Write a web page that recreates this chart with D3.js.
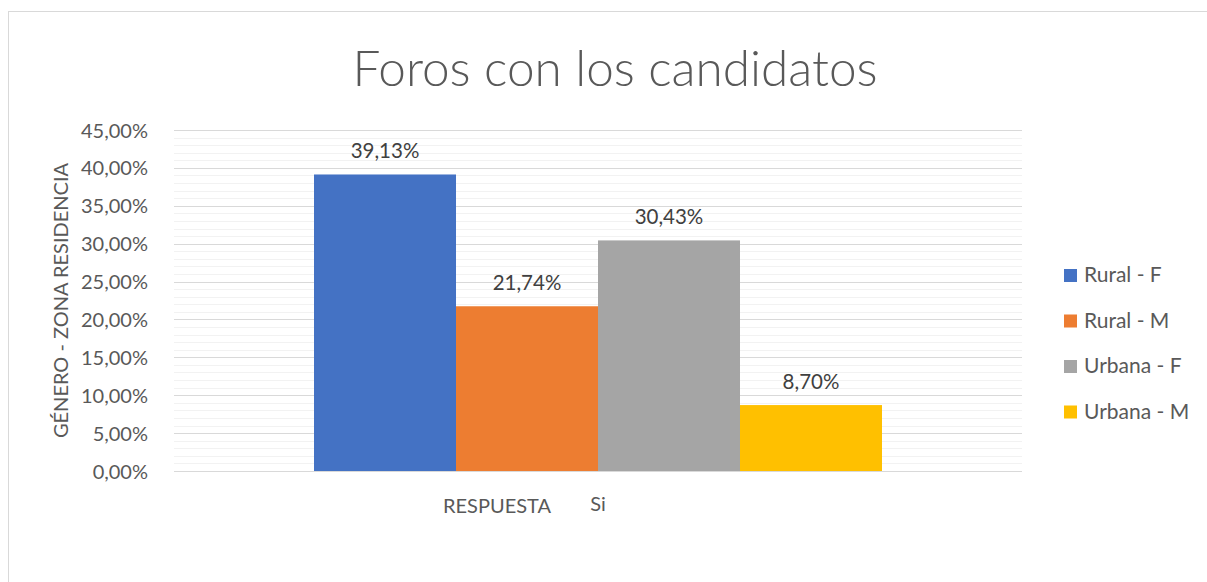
<!DOCTYPE html>
<html>
<head>
<meta charset="utf-8">
<script src="https://cdn.jsdelivr.net/npm/d3@7"></script>
<style>
  body { margin: 0; background: #fff; }
  text { font-family: Lato, "Open Sans", sans-serif; }
</style>
</head>
<body>
<script>
// datos del grafico
const categories = ["Si"];
const series = ["Rural - F", "Rural - M", "Urbana - F", "Urbana - M"];
const values = [0.3913, 0.2174, 0.3043, 0.0870];
const colors = ["#4472c4", "#ed7d31", "#a5a5a5", "#ffc000"];
const yTicks = [0, 0.05, 0.10, 0.15, 0.20, 0.25, 0.30, 0.35, 0.40, 0.45];

const W = 1207, H = 582;
const plot = {left: 174, right: 1022, top: 130, bottom: 471};

const fmt = v => d3.format(".2f")(v * 100).replace(".", ",") + "%";

const svg = d3.select("body").append("svg").attr("width", W).attr("height", H);

// borde del grafico
svg.append("rect")
    .attr("x", 8.5).attr("y", 11.5)
    .attr("width", W).attr("height", H)
    .attr("fill", "#fff").attr("stroke", "#d9d9d9").attr("stroke-width", 1);

const y = d3.scaleLinear().domain([0, 0.45]).range([plot.bottom, plot.top]);
const x0 = d3.scaleBand().domain(categories).range([plot.left, plot.right]).paddingInner(0).paddingOuter(0.2465);
const x1 = d3.scaleBand().domain(series).range([0, x0.bandwidth()]);

// lineas menores cada 1%
const minor = d3.range(0, 46).map(d => d / 100).filter(d => Math.round(d * 100) % 5 !== 0);
svg.append("g").selectAll("line").data(minor).join("line")
    .attr("x1", plot.left).attr("x2", plot.right)
    .attr("y1", d => Math.round(y(d)) + 0.5).attr("y2", d => Math.round(y(d)) + 0.5)
    .attr("stroke", "#f2f2f2").attr("stroke-width", 1);

// lineas principales
svg.append("g").selectAll("line").data(yTicks).join("line")
    .attr("x1", plot.left).attr("x2", plot.right)
    .attr("y1", d => Math.round(y(d)) + 0.5).attr("y2", d => Math.round(y(d)) + 0.5)
    .attr("stroke", "#d9d9d9").attr("stroke-width", 1);

// eje Y
const yAxis = svg.append("g")
    .attr("transform", "translate(" + (plot.left - 23) + ",0)")
    .call(d3.axisLeft(y).tickValues(yTicks).tickFormat(fmt).tickSize(0));
yAxis.select(".domain").remove();
yAxis.selectAll("text").attr("fill", "#595959").attr("font-size", 20).attr("dy", "0.35em");

// barras
const g = svg.append("g");
categories.forEach(c => {
    g.selectAll("rect.bar").data(series).join("rect")
        .attr("class", "bar")
        .attr("x", s => x0(c) + x1(s))
        .attr("y", (s, i) => y(values[i]))
        .attr("width", x1.bandwidth())
        .attr("height", (s, i) => y(0) - y(values[i]))
        .attr("fill", (s, i) => colors[i]);

    g.selectAll("text.lbl").data(series).join("text")
        .attr("class", "lbl")
        .attr("x", s => x0(c) + x1(s) + x1.bandwidth() / 2)
        .attr("y", (s, i) => y(values[i]) - 16)
        .attr("text-anchor", "middle")
        .attr("font-size", 20.5).attr("fill", "#404040")
        .text((s, i) => fmt(values[i]));
});

// etiqueta de categoria
svg.append("text")
    .attr("x", x0(categories[0]) + x0.bandwidth() / 2).attr("y", 511)
    .attr("text-anchor", "middle").attr("font-size", 20).attr("fill", "#595959")
    .text(categories[0]);

svg.append("text")
    .attr("x", 497).attr("y", 513)
    .attr("text-anchor", "middle").attr("font-size", 20).attr("fill", "#595959")
    .text("RESPUESTA");

// titulo eje Y
svg.append("text")
    .attr("transform", "translate(68," + ((plot.top + plot.bottom) / 2) + ") rotate(-90)")
    .attr("text-anchor", "middle").attr("font-size", 20).attr("fill", "#595959")
    .text("GÉNERO - ZONA RESIDENCIA");

// titulo
svg.append("text")
    .attr("x", 615).attr("y", 86)
    .attr("text-anchor", "middle").attr("font-size", 49.5).attr("font-weight", 300)
    .attr("fill", "#595959")
    .text("Foros con los candidatos");

// leyenda
const leg = svg.append("g").selectAll("g").data(series).join("g")
    .attr("transform", (d, i) => "translate(1064," + (275 + i * 45.5) + ")");
leg.append("rect").attr("x", 0).attr("y", -6).attr("width", 13).attr("height", 13)
    .attr("fill", (d, i) => colors[i]);
leg.append("text").attr("x", 20).attr("y", 0).attr("dy", "0.35em")
    .attr("font-size", 21).attr("fill", "#595959").text(d => d);
</script>
</body>
</html>
